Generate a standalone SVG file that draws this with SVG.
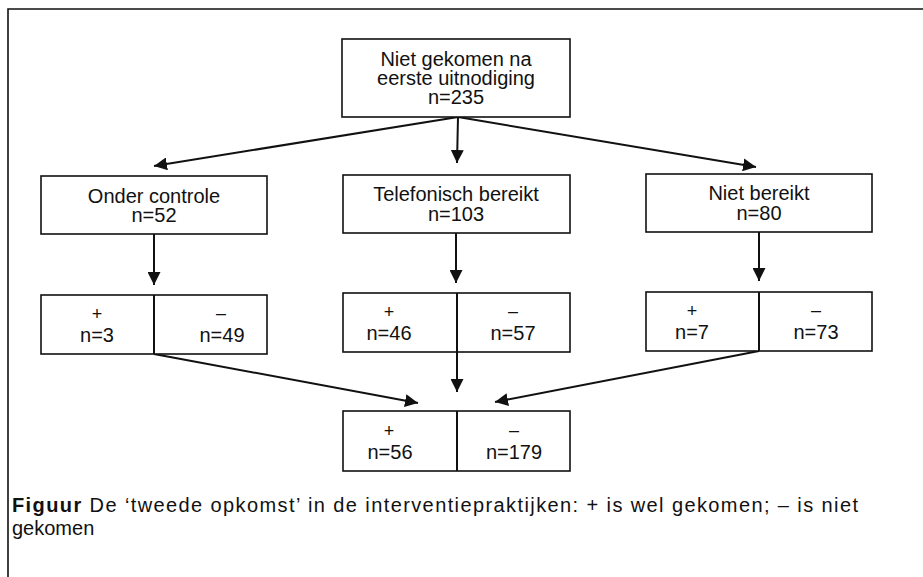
<svg xmlns="http://www.w3.org/2000/svg" width="923" height="577" viewBox="0 0 923 577">
<style>
  .box { fill: #fff; stroke: #111; stroke-width: 1.6; }
  .div { stroke: #111; stroke-width: 2; }
  .t { font-family: "Liberation Sans", Arial, sans-serif; font-size: 20px; fill: #111; text-anchor: middle; }
  .s { font-family: "Liberation Sans", Arial, sans-serif; font-size: 18px; fill: #111; text-anchor: middle; }
  .cap { font-family: "Liberation Sans", Arial, sans-serif; font-size: 20px; fill: #111; }
  .con { stroke: #111; stroke-width: 2; fill: none; marker-end: url(#ah); }
</style>
<defs>
  <marker id="ah" markerUnits="userSpaceOnUse" viewBox="0 0 13 13" refX="13" refY="6.5" markerWidth="13" markerHeight="13" orient="auto">
    <path d="M0,0 L13,6.5 L0,13 z" fill="#111"/>
  </marker>
</defs>
<rect x="0" y="0" width="923" height="577" fill="#fff"/>
<path d="M8,577 V9 H923" fill="none" stroke="#111" stroke-width="1.6"/>

<g id="connectors">
  <line class="con" x1="458" y1="117" x2="154" y2="166"/>
  <line class="con" x1="458" y1="117" x2="457" y2="163"/>
  <line class="con" x1="458" y1="117" x2="756" y2="167"/>
  <line class="con" x1="154" y1="234" x2="154" y2="285"/>
  <line class="con" x1="456" y1="233" x2="456" y2="283"/>
  <line class="con" x1="759" y1="232" x2="759" y2="281"/>
  <line class="con" x1="154" y1="354" x2="418" y2="403"/>
  <line class="con" x1="457" y1="352" x2="457" y2="392"/>
  <line class="con" x1="759" y1="351" x2="495" y2="402"/>
</g>

<g id="top">
  <rect class="box" x="342" y="39" width="228" height="78"/>
  <text class="t" x="456" y="66">Niet gekomen na</text>
  <text class="t" x="456" y="85">eerste uitnodiging</text>
  <text class="t" x="456" y="104">n=235</text>
</g>

<g id="onder">
  <rect class="box" x="41" y="176" width="226" height="58"/>
  <text class="t" x="154" y="203">Onder controle</text>
  <text class="t" x="154" y="222">n=52</text>
</g>
<g id="telefonisch">
  <rect class="box" x="343" y="175" width="227" height="58"/>
  <text class="t" x="456" y="201">Telefonisch bereikt</text>
  <text class="t" x="456" y="221">n=103</text>
</g>
<g id="nietbereikt">
  <rect class="box" x="646" y="174" width="226" height="58"/>
  <text class="t" x="759" y="200">Niet bereikt</text>
  <text class="t" x="759" y="220">n=80</text>
</g>

<g id="onder-split">
  <rect class="box" x="41" y="295" width="226" height="59"/>
  <line class="div" x1="154" y1="295" x2="154" y2="354"/>
  <text class="s" x="97" y="320">+</text>
  <text class="t" x="97" y="342">n=3</text>
  <text class="s" x="221" y="319">–</text>
  <text class="t" x="222" y="342">n=49</text>
</g>
<g id="telefonisch-split">
  <rect class="box" x="343" y="293" width="227" height="59"/>
  <line class="div" x1="457" y1="293" x2="457" y2="352"/>
  <text class="s" x="389" y="318">+</text>
  <text class="t" x="389" y="340">n=46</text>
  <text class="s" x="513" y="317">–</text>
  <text class="t" x="513" y="340">n=57</text>
</g>
<g id="nietbereikt-split">
  <rect class="box" x="646" y="292" width="226" height="59"/>
  <line class="div" x1="759" y1="292" x2="759" y2="351"/>
  <text class="s" x="692" y="317">+</text>
  <text class="t" x="692" y="339">n=7</text>
  <text class="s" x="816" y="316">–</text>
  <text class="t" x="816" y="339">n=73</text>
</g>
<g id="totaal">
  <rect class="box" x="343" y="411" width="227" height="60"/>
  <line class="div" x1="457" y1="411" x2="457" y2="471"/>
  <text class="s" x="389" y="437">+</text>
  <text class="t" x="390" y="459">n=56</text>
  <text class="s" x="514" y="436">–</text>
  <text class="t" x="514" y="459">n=179</text>
</g>

<g id="caption">
  <text class="cap" x="12" y="512" textLength="846" lengthAdjust="spacing"><tspan font-weight="bold">Figuur</tspan>  De ‘tweede opkomst’ in de interventiepraktijken: + is wel gekomen; – is niet</text>
  <text class="cap" x="12" y="535">gekomen</text>
</g>
</svg>
